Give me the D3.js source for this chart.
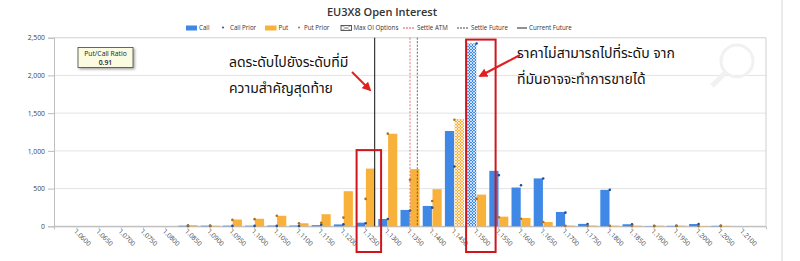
<!DOCTYPE html>
<html><head><meta charset="utf-8">
<script src="https://cdn.jsdelivr.net/npm/d3@7"></script>
<style>
html,body{margin:0;padding:0;background:#fff;}
svg{display:block;}
</style></head>
<body>
<svg id="chart" width="800" height="261"></svg>
<script>
// ---------- DATA ----------
const strikes = ["1.0600","1.0650","1.0700","1.0750","1.0800","1.0850","1.0900","1.0950","1.1000","1.1050",
  "1.1100","1.1150","1.1200","1.1250","1.1300","1.1350","1.1400","1.1450","1.1500","1.1550",
  "1.1600","1.1650","1.1700","1.1750","1.1800","1.1850","1.1900","1.1950","1.2000","1.2050","1.2100"];
const callOI = [0,0,0,0,0,8,8,8,8,10, 10,15,25,48,97,217,270,1263,2424,735, 514,635,190,32,483,27,3,6,30,6,0];
const putOI  = [0,0,0,0,0,15,8,90,100,140, 40,160,465,765,1227,758,492,1423,420,128, 110,57,10,10,8,8,8,8,4,6,0];
const callPrior = [null,null,null,null,null,5,5,5,5,5, 5,20,25,40,97,208,247,793,2424,678, 545,633,181,30,483,27,3,6,30,6,null];
const putPrior  = [null,null,null,null,null,12,8,85,95,140, 40,48,115,363,1228,616,336,1413,363,120, 100,57,8,8,8,8,8,8,3,5,null];
const yTicks = [0,500,1000,1500,2000,2500];
const currentFuture = 1.12705;
const settleATM = 1.1350;
const settleFuture = 1.13665;
const putCallRatio = "0.91";
const title = "EU3X8 Open Interest";
const legendItems = ["Call","Call Prior","Put","Put Prior","Max OI Options","Settle ATM","Settle Future","Current Future"];
const note1 = ["ลดระดับไปยังระดับที่มี","ความสำคัญสุดท้าย"];
const note2 = ["ราคาไม่สามารถไปที่ระดับ จาก","ที่มันอาจจะทำการขายได้"];

// ---------- LAYOUT ----------
const L = 54, R = 766, T = 37.7, B = 226.3;
const callColor = "#3f88e6", putColor = "#f8b13a";
const callPriorColor = "#1c4f99", putPriorColor = "#b06f1c";
const svg = d3.select("#chart");
const uiFont = "'Open Sans', 'DejaVu Sans', sans-serif";
const thaiFont = "Tahoma, 'Noto Sans Thai', 'Leelawadee UI', 'Loma', 'Garuda', sans-serif";

const x = d3.scaleBand().domain(strikes).range([L, R]).paddingOuter(0.535).paddingInner(0);
const cx = s => x(s) + x.bandwidth() / 2;
const x1 = d3.scaleBand().domain(["call","put"]).range([-9.5, 9.5]).paddingInner(0.06);
const y = d3.scaleLinear().domain([0, 2500]).range([B, T]);
const xv = d3.scaleLinear().domain([+strikes[0], +strikes[strikes.length-1]]).range([cx(strikes[0]), cx(strikes[strikes.length-1])]);

// patterns
const defs = svg.append("defs");
function hatch(id, color){
  const p = defs.append("pattern").attr("id", id).attr("patternUnits","userSpaceOnUse").attr("width",3).attr("height",3);
  p.append("rect").attr("width",3).attr("height",3).attr("fill",color);
  p.append("path").attr("d","M0,0L3,3M3,0L0,3").attr("stroke","#fff").attr("stroke-width",0.7);
}
hatch("hCall", callColor); hatch("hPut", putColor);
const sh = defs.append("filter").attr("id","shadow").attr("x","-20%").attr("y","-20%").attr("width","150%").attr("height","150%");
sh.append("feDropShadow").attr("dx",1.5).attr("dy",1.5).attr("stdDeviation",0.8).attr("flood-color","#000").attr("flood-opacity",0.35);
const arrowM = defs.append("marker").attr("id","arr").attr("viewBox","0 0 10 10").attr("refX",8).attr("refY",5)
  .attr("markerWidth",4.5).attr("markerHeight",4.5).attr("orient","auto");
arrowM.append("path").attr("d","M0,0L10,5L0,10z").attr("fill","#e0201f");

// page border line on right
svg.append("line").attr("x1",782).attr("x2",782).attr("y1",0).attr("y2",261).attr("stroke","#d6d6d6");

// title
svg.append("text").attr("x",382).attr("y",15.5).attr("text-anchor","middle")
  .attr("font-family",uiFont).attr("font-size",11).attr("font-weight",600).attr("fill","#333").text(title);

// gridlines
svg.append("g").selectAll("line").data(yTicks).join("line")
  .attr("x1",L).attr("x2",R).attr("y1",d=>y(d)).attr("y2",d=>y(d))
  .attr("stroke", d=> d===0 ? "#bdbdbd" : "#e3e3e3").attr("stroke-width",1);
// frame
svg.append("line").attr("x1",R).attr("x2",R).attr("y1",T).attr("y2",B).attr("stroke","#d0d0d0");
svg.append("line").attr("x1",L).attr("x2",R).attr("y1",T).attr("y2",T).attr("stroke","#d8d8d8");

// faint magnifier watermark
const mg = svg.append("g").attr("stroke","#f1f1f1").attr("fill","none").attr("stroke-width",3);
mg.append("circle").attr("cx",737).attr("cy",61).attr("r",16);
mg.append("line").attr("x1",725).attr("y1",73).attr("x2",712).attr("y2",86).attr("stroke-width",5);

// y axis
const yAxis = d3.axisLeft(y).tickValues(yTicks).tickSize(6).tickPadding(3).tickFormat(d3.format(","));
const gy = svg.append("g").attr("transform",`translate(${L},0)`).call(yAxis);
gy.select(".domain").attr("stroke","#bdbdbd");
gy.selectAll(".tick line").attr("stroke","#bdbdbd");
gy.selectAll("text").attr("font-family",uiFont).attr("font-size",6.8).attr("fill","#444");

// x axis
const xAxis = d3.axisBottom(x).tickSize(3).tickPadding(2);
const gx = svg.append("g").attr("transform",`translate(0,${B})`).call(xAxis);
gx.select(".domain").attr("stroke","#bdbdbd");
gx.selectAll(".tick line").attr("stroke","#c8c8c8");
gx.selectAll("text").attr("font-family",uiFont).attr("font-size",6.6).attr("fill","#444")
  .attr("text-anchor","start").attr("transform","translate(1,1) rotate(45)").attr("dy","0.35em").attr("x",0).attr("y",4);

// bars
const maxCall = d3.max(callOI), maxPut = d3.max(putOI);
const rows = strikes.map((s,i)=>({s, call:callOI[i], put:putOI[i], cp:callPrior[i], pp:putPrior[i]}));
const gb = svg.append("g");
gb.selectAll("rect.call").data(rows).join("rect").attr("class","call")
  .attr("x",d=>cx(d.s)+x1("call")).attr("width",x1.bandwidth())
  .attr("y",d=>y(d.call)).attr("height",d=>y(0)-y(d.call))
  .attr("fill",d=> d.call===maxCall ? "url(#hCall)" : callColor);
gb.selectAll("rect.put").data(rows).join("rect").attr("class","put")
  .attr("x",d=>cx(d.s)+x1("put")).attr("width",x1.bandwidth())
  .attr("y",d=>y(d.put)).attr("height",d=>y(0)-y(d.put))
  .attr("fill",d=> d.put===maxPut ? "url(#hPut)" : putColor);
// prior dots
gb.selectAll("circle.cp").data(rows.filter(d=>d.cp!==null)).join("circle").attr("class","cp")
  .attr("cx",d=>cx(d.s)).attr("cy",d=>y(d.cp)).attr("r",1.3).attr("fill",callPriorColor);
gb.selectAll("circle.pp").data(rows.filter(d=>d.pp!==null)).join("circle").attr("class","pp")
  .attr("cx",d=>cx(d.s)).attr("cy",d=>y(d.pp)).attr("r",1.3).attr("fill",putPriorColor);

// reference lines
svg.append("line").attr("x1",xv(settleATM)).attr("x2",xv(settleATM)).attr("y1",T).attr("y2",B)
  .attr("stroke","#e05050").attr("stroke-width",0.8).attr("stroke-dasharray","2,1.5");
svg.append("line").attr("x1",xv(settleFuture)).attr("x2",xv(settleFuture)).attr("y1",T).attr("y2",B)
  .attr("stroke","#444").attr("stroke-width",0.8).attr("stroke-dasharray","2,1.5");
svg.append("line").attr("x1",xv(currentFuture)).attr("x2",xv(currentFuture)).attr("y1",T).attr("y2",B)
  .attr("stroke","#111").attr("stroke-width",1);

// legend
const lg = svg.append("g").attr("font-family",uiFont).attr("font-size",6.2).attr("fill","#333");
const ly = 29.6;
const lx = [186, 221, 265, 297, 341, 403, 457, 517];
lg.append("rect").attr("x",lx[0]).attr("y",25.5).attr("width",11).attr("height",5).attr("fill",callColor);
lg.append("text").attr("x",lx[0]+13).attr("y",ly).text(legendItems[0]);
lg.append("circle").attr("cx",lx[1]+2).attr("cy",27.5).attr("r",1).attr("fill",callPriorColor);
lg.append("text").attr("x",lx[1]+9).attr("y",ly).text(legendItems[1]);
lg.append("rect").attr("x",lx[2]).attr("y",25.5).attr("width",11.5).attr("height",5).attr("fill",putColor);
lg.append("text").attr("x",lx[2]+13.5).attr("y",ly).text(legendItems[2]);
lg.append("circle").attr("cx",lx[3]+2).attr("cy",27.5).attr("r",1).attr("fill",putPriorColor);
lg.append("text").attr("x",lx[3]+7).attr("y",ly).text(legendItems[3]);
lg.append("rect").attr("x",lx[4]).attr("y",25.5).attr("width",10.5).attr("height",5).attr("fill","#fff").attr("stroke","#333").attr("stroke-width",0.8);
lg.append("path").attr("d",`M${lx[4]},25.5L${lx[4]+10.5},30.5M${lx[4]+10.5},25.5L${lx[4]},30.5`).attr("stroke","#555").attr("stroke-width",0.5);
lg.append("text").attr("x",lx[4]+12.5).attr("y",ly).text(legendItems[4]);
lg.append("line").attr("x1",lx[5]).attr("x2",lx[5]+11).attr("y1",28).attr("y2",28).attr("stroke","#e05050").attr("stroke-dasharray","2,1");
lg.append("text").attr("x",lx[5]+14).attr("y",ly).text(legendItems[5]);
lg.append("line").attr("x1",lx[6]).attr("x2",lx[6]+11).attr("y1",28).attr("y2",28).attr("stroke","#444").attr("stroke-dasharray","2,1");
lg.append("text").attr("x",lx[6]+14).attr("y",ly).text(legendItems[6]);
lg.append("line").attr("x1",lx[7]).attr("x2",lx[7]+10).attr("y1",28).attr("y2",28).attr("stroke","#222");
lg.append("text").attr("x",lx[7]+12).attr("y",ly).text(legendItems[7]);

// Put/Call ratio box
const pc = svg.append("g");
pc.append("rect").attr("x",78).attr("y",47.5).attr("width",55).attr("height",20).attr("fill","#fbfbe2")
  .attr("stroke","#444").attr("stroke-width",0.8).attr("filter","url(#shadow)");
pc.append("text").attr("x",105.5).attr("y",56).attr("text-anchor","middle").attr("font-family",uiFont).attr("font-size",6.8).attr("fill","#222").text("Put/Call Ratio");
pc.append("text").attr("x",105.5).attr("y",64.5).attr("text-anchor","middle").attr("font-family",uiFont).attr("font-size",6.8).attr("font-weight",600).attr("fill","#222").text(putCallRatio);

// annotations
const red = "#d0151d";
svg.append("rect").attr("x",cx("1.1250")-9).attr("y",y(1010)).attr("width",24.5).attr("height",252-y(1010))
  .attr("fill","none").attr("stroke",red).attr("stroke-width",2);
svg.append("rect").attr("x",cx("1.1500")-10.5).attr("y",y(2475)).attr("width",29.5).attr("height",252-y(2475))
  .attr("fill","none").attr("stroke",red).attr("stroke-width",2);
svg.append("line").attr("x1",352).attr("y1",72).attr("x2",370).attr("y2",90).attr("stroke","#e0201f").attr("stroke-width",2).attr("marker-end","url(#arr)");
svg.append("line").attr("x1",520).attr("y1",55).attr("x2",480).attr("y2",76).attr("stroke","#e0201f").attr("stroke-width",2).attr("marker-end","url(#arr)");

const t1 = svg.append("g").attr("font-family",thaiFont).attr("font-size",14).attr("fill","#111");
t1.append("text").attr("x",229).attr("y",67).text(note1[0]);
t1.append("text").attr("x",229).attr("y",93).text(note1[1]);
t1.append("text").attr("x",517).attr("y",58).text(note2[0]);
t1.append("text").attr("x",517).attr("y",83.5).text(note2[1]);
</script>
</body></html>
